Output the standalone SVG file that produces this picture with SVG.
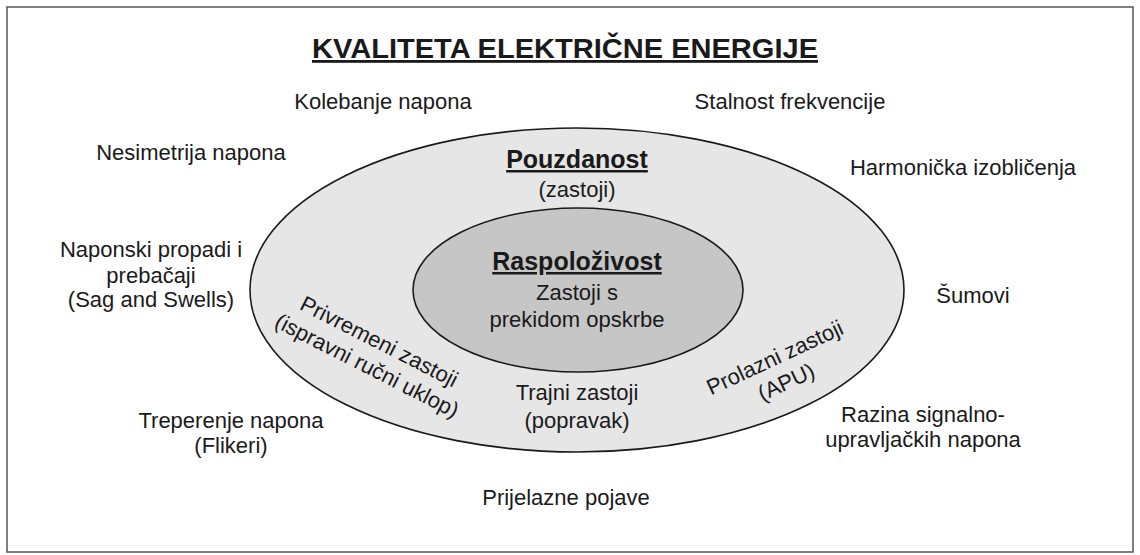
<svg xmlns="http://www.w3.org/2000/svg" width="1140" height="555" viewBox="0 0 1140 555">
<style>
text{font-family:"Liberation Sans",Arial,sans-serif;fill:#1a1a1a;text-anchor:middle;font-size:22px}
.b{font-weight:bold;text-decoration:underline;font-size:25px}
.t{font-weight:bold;text-decoration:underline;font-size:28px}
.e{stroke:#1a1a1a;stroke-width:1.6}
</style>
<rect x="0" y="0" width="1140" height="555" fill="#fff"/>
<rect x="7" y="7" width="1126" height="545" fill="none" stroke="#555" stroke-width="1.5"/>
<text id="title" class="t" x="565" y="58" textLength="506" lengthAdjust="spacingAndGlyphs">KVALITETA ELEKTRIČNE ENERGIJE</text>
<g id="pouzdanost">
<ellipse class="e" cx="577" cy="290" rx="327" ry="162" fill="#e6e6e6"/>
<text class="b" x="577" y="168">Pouzdanost</text>
<text x="577" y="197">(zastoji)</text>
</g>
<g id="raspolozivost">
<ellipse class="e" cx="578" cy="290" rx="165" ry="82" fill="#c6c6c6"/>
<text class="b" x="577" y="270">Raspoloživost</text>
<text x="577" y="300">Zastoji s</text>
<text x="577" y="327">prekidom opskrbe</text>
</g>
<g id="privremeni" transform="translate(379,342) rotate(27)">
<text x="0" y="7">Privremeni zastoji</text>
<text x="0" y="34">(ispravni ručni uklop)</text>
</g>
<g id="trajni">
<text x="577" y="400">Trajni zastoji</text>
<text x="577" y="428">(popravak)</text>
</g>
<g id="prolazni" transform="translate(775,358) rotate(-25)">
<text x="0" y="7">Prolazni zastoji</text>
<text x="0" y="34">(APU)</text>
</g>
<g id="kolebanje"><text x="383" y="109">Kolebanje napona</text></g>
<g id="stalnost"><text x="790" y="109">Stalnost frekvencije</text></g>
<g id="nesimetrija"><text x="191" y="160">Nesimetrija napona</text></g>
<g id="harmonicka"><text x="963" y="175">Harmonička izobličenja</text></g>
<g id="propadi">
<text x="151" y="257">Naponski propadi i</text>
<text x="151" y="283">prebačaji</text>
<text x="151" y="307">(Sag and Swells)</text>
</g>
<g id="sumovi"><text x="973" y="303">Šumovi</text></g>
<g id="razina">
<text x="923" y="422">Razina signalno-</text>
<text x="923" y="447">upravljačkih napona</text>
</g>
<g id="treperenje">
<text x="231" y="428">Treperenje napona</text>
<text x="231" y="453">(Flikeri)</text>
</g>
<g id="prijelazne"><text x="566" y="505">Prijelazne pojave</text></g>
<g id="connectors"></g>
</svg>
